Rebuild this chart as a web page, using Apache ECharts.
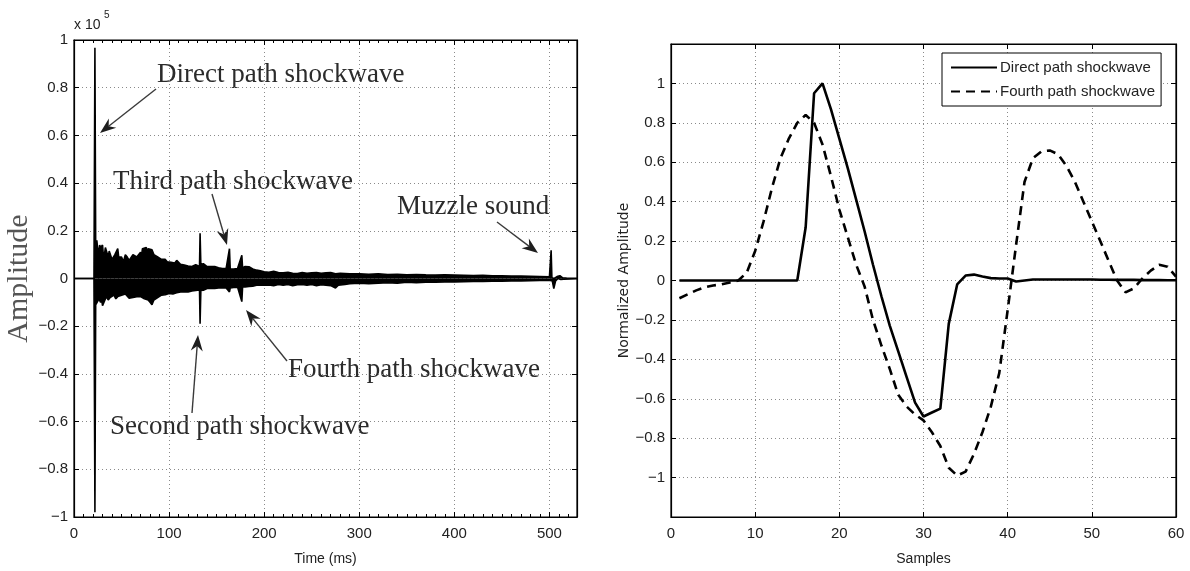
<!DOCTYPE html>
<html><head><meta charset="utf-8">
<script src="https://cdn.jsdelivr.net/npm/echarts@6/dist/echarts.min.js"></script>
<style>html,body{margin:0;padding:0;background:#fff}#c{width:1190px;height:571px}</style>
</head><body><div id="c"></div>
<script>
// ---------- Left panel: recorded signal envelope (x 10^5), time in ms ----------
const envUpper = [[0,0],[21,0],[22,0.967],[22.8,0.15],[24,0.16],[25,0.12],[26,0.11],[27,0.14],[28,0.13],[30,0.14],[31,0.09],[32,0.10],[33,0.13],[34,0.125],[36,0.09],[37,0.115],[38,0.11],[40,0.08],[42,0.076],[43,0.1],[44,0.10],[46,0.125],[47,0.09],[48,0.085],[50,0.09],[52,0.07],[54,0.10],[56,0.09],[58,0.076],[60,0.08],[62,0.10],[64,0.095],[66,0.09],[68,0.085],[70,0.11],[71,0.095],[72,0.125],[74,0.12],[76,0.13],[77,0.115],[78,0.125],[80,0.128],[82,0.12],[84,0.10],[86,0.095],[88,0.09],[90,0.085],[92,0.08],[94,0.076],[96,0.08],[98,0.07],[100,0.07],[102,0.068],[104,0.06],[106,0.065],[108,0.076],[110,0.07],[112,0.06],[114,0.058],[116,0.056],[118,0.05],[120,0.052],[122,0.049],[124,0.05],[126,0.056],[128,0.058],[130,0.052],[132,0.05],[132.6,0.19],[133.4,0.06],[136,0.062],[138,0.055],[140,0.05],[142,0.056],[144,0.05],[146,0.048],[148,0.05],[150,0.049],[152,0.045],[154,0.044],[156,0.042],[158,0.04],[160,0.042],[162,0.04],[163.5,0.125],[164.3,0.04],[166,0.042],[168,0.04],[170,0.038],[172,0.042],[174,0.04],[176.5,0.097],[177.3,0.045],[180,0.05],[182,0.045],[184,0.049],[186,0.042],[188,0.04],[190,0.035],[192,0.035],[194,0.03],[196,0.032],[198,0.03],[200,0.028],[205,0.026],[210,0.03],[215,0.025],[220,0.024],[225,0.026],[230,0.022],[235,0.021],[240,0.025],[245,0.022],[250,0.024],[255,0.025],[260,0.022],[265,0.024],[270,0.025],[275,0.02],[280,0.022],[290,0.02],[300,0.02],[310,0.018],[320,0.02],[330,0.017],[340,0.018],[350,0.016],[360,0.017],[370,0.015],[380,0.014],[390,0.015],[400,0.014],[410,0.013],[420,0.012],[430,0.013],[440,0.011],[450,0.011],[460,0.01],[470,0.01],[480,0.009],[490,0.008],[500,0.007],[501.8,0.118],[502.6,0.003],[505,0],[508,0.008],[511,0.012],[514,0.003],[518,0.002],[529,0.001]];
const envLower = [[0,0],[21,0],[22,-0.98],[22.8,-0.11],[24,-0.11],[25,-0.095],[26,-0.083],[28,-0.10],[29,-0.085],[30,-0.114],[32,-0.11],[34,-0.076],[36,-0.09],[38,-0.08],[40,-0.083],[42,-0.07],[44,-0.085],[46,-0.076],[48,-0.08],[50,-0.07],[52,-0.075],[54,-0.065],[56,-0.07],[58,-0.083],[60,-0.078],[62,-0.08],[64,-0.072],[66,-0.076],[68,-0.07],[70,-0.076],[72,-0.08],[74,-0.085],[76,-0.09],[78,-0.09],[80,-0.10],[82,-0.11],[84,-0.09],[86,-0.083],[88,-0.08],[90,-0.076],[92,-0.07],[94,-0.076],[96,-0.068],[98,-0.063],[100,-0.063],[102,-0.06],[104,-0.065],[106,-0.063],[108,-0.06],[110,-0.063],[112,-0.056],[114,-0.058],[116,-0.056],[118,-0.052],[120,-0.056],[122,-0.05],[124,-0.052],[126,-0.049],[128,-0.05],[130,-0.049],[132,-0.048],[132.6,-0.19],[133.4,-0.05],[136,-0.049],[138,-0.045],[140,-0.042],[142,-0.044],[144,-0.042],[146,-0.04],[148,-0.042],[150,-0.04],[152,-0.04],[154,-0.042],[156,-0.04],[158,-0.042],[160,-0.04],[162,-0.045],[163.5,-0.056],[164.3,-0.04],[166,-0.035],[168,-0.038],[170,-0.035],[172,-0.036],[174,-0.035],[176.5,-0.097],[177.3,-0.035],[180,-0.035],[182,-0.036],[184,-0.033],[186,-0.035],[188,-0.032],[190,-0.03],[192,-0.028],[194,-0.03],[196,-0.028],[198,-0.03],[200,-0.028],[205,-0.027],[210,-0.03],[215,-0.025],[220,-0.028],[225,-0.025],[230,-0.03],[235,-0.026],[240,-0.025],[245,-0.028],[250,-0.025],[255,-0.03],[260,-0.026],[265,-0.028],[270,-0.03],[275,-0.04],[278,-0.028],[285,-0.025],[290,-0.022],[300,-0.02],[310,-0.022],[320,-0.02],[330,-0.018],[340,-0.02],[350,-0.016],[360,-0.018],[370,-0.015],[380,-0.016],[390,-0.014],[400,-0.014],[410,-0.013],[420,-0.012],[430,-0.012],[440,-0.011],[450,-0.011],[460,-0.01],[470,-0.01],[480,-0.009],[490,-0.008],[500,-0.007],[501.8,-0.004],[503,-0.01],[504.6,-0.042],[506.5,-0.01],[509,0],[512,-0.004],[515,-0.003],[529,-0.001]];

// ---------- Right panel: normalized shockwaves ----------
const samples = [1,2,3,4,5,6,7,8,9,10,11,12,13,14,15,16,17,18,19,20,21,22,23,24,25,26,27,28,29,30,31,32,33,34,35,36,37,38,39,40,41,42,43,44,45,46,47,48,49,50,51,52,53,54,55,56,57,58,59,60];
const directPath = [0,0,0,0,0,0,0,0,0,0,0,0,0,0,0,0.27,0.95,1.0,0.87,0.72,0.57,0.41,0.25,0.08,-0.08,-0.23,-0.36,-0.49,-0.62,-0.69,-0.67,-0.65,-0.22,-0.02,0.025,0.03,0.02,0.012,0.01,0.01,-0.005,0.0,0.005,0.005,0.005,0.005,0.005,0.005,0.005,0.005,0.004,0.004,0.003,0.003,0.003,0.002,0.002,0.002,0.001,0.001];
const fourthPath = [-0.09,-0.07,-0.05,-0.035,-0.025,-0.02,-0.01,0.0,0.04,0.15,0.30,0.47,0.62,0.72,0.80,0.84,0.80,0.69,0.53,0.36,0.22,0.08,-0.03,-0.20,-0.33,-0.45,-0.58,-0.64,-0.68,-0.71,-0.77,-0.84,-0.95,-0.99,-0.97,-0.88,-0.77,-0.64,-0.47,-0.15,0.18,0.50,0.62,0.655,0.66,0.64,0.58,0.50,0.40,0.30,0.20,0.10,0.0,-0.06,-0.04,0.01,0.05,0.08,0.07,0.02];
const seriesNames = ['Direct path shockwave','Fourth path shockwave'];

// ---------- annotations (left panel) ----------
const annotations = ['Direct path shockwave','Third path shockwave','Muzzle sound','Fourth path shockwave','Second path shockwave'];

const chart = echarts.init(document.getElementById('c'));
const sans = '"Liberation Sans", Arial, sans-serif';
const serif = '"Liberation Serif", "Times New Roman", serif';
const minus = v => {
  const r = Math.round(v * 10) / 10;
  if (Math.abs(r) < 1e-9) return '0';
  return (r < 0 ? '\u2212' : '') + Math.abs(r);
};
const grid1 = {left: 74, top: 40, width: 503, height: 480};
const grid2 = {left: 671, top: 44, width: 505, height: 477};
const gridLine = {show: true, lineStyle: {color: '#8a8a8a', width: 1, type: [1, 3]}};
const axLine = {show: true, onZero: false, lineStyle: {color: '#000', width: 1.2}};
const lbl = {color: '#222', fontFamily: sans, fontSize: 15};

function arrow(x1, y1, x2, y2) {
  const dx = x2 - x1, dy = y2 - y1, len = Math.hypot(dx, dy);
  const ux = dx / len, uy = dy / len, nx = -uy, ny = ux;
  const L = 16, W = 6, B = 5;
  const bx = x2 - ux * L, by = y2 - uy * L;
  return [
    {type: 'line', shape: {x1, y1, x2: x2 - ux * (L - B), y2: y2 - uy * (L - B)}, style: {stroke: '#3a3a3a', lineWidth: 1.4}},
    {type: 'polygon', shape: {points: [[x2, y2], [bx + nx * W, by + ny * W], [x2 - ux * (L - B), y2 - uy * (L - B)], [bx - nx * W, by - ny * W]]}, style: {fill: '#1e1e1e'}}
  ];
}
const txt = (t, x, y) => ({type: 'text', style: {text: t, x, y, fill: '#2b2b2b', font: '27px ' + serif, verticalAlign: 'middle'}});

const graphics = [
  txt(annotations[0], 157, 75),
  txt(annotations[1], 113, 182),
  txt(annotations[2], 397, 207),
  txt(annotations[3], 288, 370),
  txt(annotations[4], 110, 427),
  ...arrow(156, 89, 100, 133),
  ...arrow(212, 194, 227, 245),
  ...arrow(497, 222, 538, 253),
  ...arrow(287, 361, 246, 310),
  ...arrow(192, 413, 198, 335),
  {type: 'text', style: {text: 'x 10', x: 74, y: 25, fill: '#222', font: '14px ' + sans, verticalAlign: 'middle'}},
  {type: 'text', style: {text: '5', x: 104, y: 15, fill: '#222', font: '10px ' + sans, verticalAlign: 'middle'}}
];

const frame = {show: true, borderColor: '#000', borderWidth: 1.2, backgroundColor: '#fff'};
const inTick = {show: true, inside: true, length: 5, lineStyle: {color: '#000'}};

chart.setOption({
  animation: false,
  backgroundColor: '#fff',
  grid: [Object.assign({}, frame, grid1), Object.assign({}, frame, grid2)],
  legend: {
    data: seriesNames, orient: 'vertical', left: 942, top: 53, itemWidth: 46, itemHeight: 14, itemGap: 9,
    padding: [7, 6, 7, 8], borderColor: '#000', borderWidth: 1, backgroundColor: '#fff',
    itemStyle: {opacity: 0},
    textStyle: {fontFamily: sans, fontSize: 15, color: '#222', padding: [0, 0, 0, -2]}
  },
  xAxis: [
    {gridIndex: 0, type: 'value', min: 0, max: 529, interval: 100, position: 'bottom',
     name: 'Time (ms)', nameLocation: 'middle', nameGap: 35, nameTextStyle: {fontFamily: sans, fontSize: 14, color: '#222'},
     axisLine: axLine, axisTick: inTick,
     minorTick: {show: true, splitNumber: 10, length: 3, lineStyle: {color: '#000'}},
     axisLabel: Object.assign({margin: 9, showMaxLabel: false}, lbl), splitLine: gridLine},
    {gridIndex: 0, type: 'value', min: 0, max: 529, interval: 100, position: 'top',
     axisLine: axLine, axisTick: inTick,
     minorTick: {show: true, splitNumber: 10, length: 3, lineStyle: {color: '#000'}},
     axisLabel: {show: false}, splitLine: {show: false}},
    {gridIndex: 1, type: 'value', min: 0, max: 60, interval: 10, position: 'bottom',
     name: 'Samples', nameLocation: 'middle', nameGap: 35, nameTextStyle: {fontFamily: sans, fontSize: 14, color: '#222'},
     axisLine: axLine, axisTick: inTick,
     axisLabel: Object.assign({margin: 9}, lbl), splitLine: gridLine},
    {gridIndex: 1, type: 'value', min: 0, max: 60, interval: 10, position: 'top',
     axisLine: axLine, axisTick: inTick,
     axisLabel: {show: false}, splitLine: {show: false}}
  ],
  yAxis: [
    {gridIndex: 0, type: 'value', min: -1, max: 1, interval: 0.2, position: 'left',
     name: 'Amplitude', nameLocation: 'middle', nameGap: 37, nameRotate: 90,
     nameTextStyle: {fontFamily: serif, fontSize: 30, color: '#555'},
     axisLine: axLine, axisTick: inTick,
     axisLabel: Object.assign({margin: 6, formatter: minus}, lbl), splitLine: gridLine},
    {gridIndex: 0, type: 'value', min: -1, max: 1, interval: 0.2, position: 'right',
     axisLine: axLine, axisTick: inTick,
     axisLabel: {show: false}, splitLine: {show: false}},
    {gridIndex: 1, type: 'value', min: -1.2, max: 1.2, interval: 0.2, position: 'left',
     name: 'Normalized Amplitude', nameLocation: 'middle', nameGap: 39, nameRotate: 90,
     nameTextStyle: {fontFamily: '"DejaVu Sans", sans-serif', fontSize: 14, color: '#222'},
     axisLine: axLine, axisTick: inTick,
     axisLabel: Object.assign({margin: 6, formatter: v => Math.abs(v) > 1.05 ? '' : minus(v)}, lbl),
     splitLine: gridLine},
    {gridIndex: 1, type: 'value', min: -1.2, max: 1.2, interval: 0.2, position: 'right',
     axisLine: axLine, axisTick: inTick,
     axisLabel: {show: false}, splitLine: {show: false}}
  ],
  series: [
    {type: 'line', xAxisIndex: 0, yAxisIndex: 0, data: envUpper, symbol: 'none', silent: true,
     lineStyle: {color: '#000', width: 1.6}, areaStyle: {color: '#000', opacity: 1, origin: 'auto'}},
    {type: 'line', xAxisIndex: 0, yAxisIndex: 0, data: envLower, symbol: 'none', silent: true,
     lineStyle: {color: '#000', width: 1.6}, areaStyle: {color: '#000', opacity: 1, origin: 'auto'}},
    {name: seriesNames[0], type: 'line', xAxisIndex: 2, yAxisIndex: 2, symbol: 'none', showSymbol: false,
     data: samples.map((s, i) => [s, directPath[i]]), lineStyle: {color: '#000', width: 2.6, type: 'solid'}, itemStyle: {color: '#000'}},
    {name: seriesNames[1], type: 'line', xAxisIndex: 2, yAxisIndex: 2, symbol: 'none', showSymbol: false,
     data: samples.map((s, i) => [s, fourthPath[i]]), lineStyle: {color: '#000', width: 2.6, type: [9, 6]}, itemStyle: {color: '#000'}}
  ],
  graphic: graphics
});
</script></body></html>
